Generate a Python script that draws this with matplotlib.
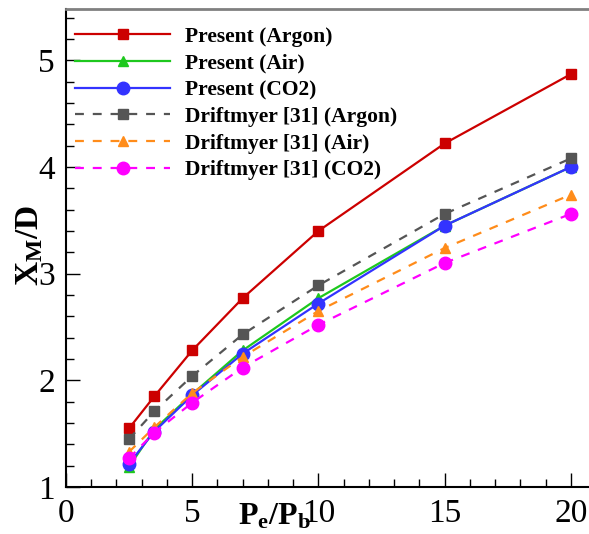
import matplotlib.pyplot as plt
from matplotlib.ticker import MultipleLocator

# Pressure ratio Pe/Pb
pressure_ratio = [2.5, 3.5, 5, 7, 10, 15, 20]

# Mach disk location X_M/D
present_argon = [1.55, 1.85, 2.28, 2.77, 3.40, 4.22, 4.87]
present_air = [1.19, 1.54, 1.87, 2.28, 2.77, 3.45, 4.00]
present_co2 = [1.22, 1.52, 1.86, 2.25, 2.72, 3.45, 4.00]
drift_argon = [1.45, 1.71, 2.04, 2.43, 2.89, 3.56, 4.08]
drift_air = [1.33, 1.56, 1.88, 2.22, 2.65, 3.24, 3.74]
drift_co2 = [1.27, 1.51, 1.79, 2.12, 2.52, 3.10, 3.56]

plt.rcParams['font.family'] = ['Liberation Serif', 'DejaVu Serif']
plt.rcParams['mathtext.fontset'] = 'custom'
plt.rcParams['mathtext.rm'] = 'Liberation Serif'
plt.rcParams['mathtext.bf'] = 'Liberation Serif:bold'

fig = plt.figure(figsize=(5.89, 5.34), dpi=100)
ax = fig.add_axes([0.112, 0.088, 0.90, 0.895])

ax.plot(pressure_ratio, present_argon, '-', color='#cc0000', lw=1.6,
        marker='s', ms=7, label='Present (Argon)')
ax.plot(pressure_ratio, present_air, '-', color='#1ec81e', lw=1.6,
        marker='^', ms=7.5, label='Present (Air)')
ax.plot(pressure_ratio, present_co2, '-', color='#3333ff', lw=1.6,
        marker='o', ms=9, label='Present (CO2)')
ax.plot(pressure_ratio, drift_argon, '--', color='#555555', lw=1.6, dashes=(4, 4),
        marker='s', ms=7, label='Driftmyer [31] (Argon)')
ax.plot(pressure_ratio, drift_air, '--', color='#ff8c1a', lw=1.6, dashes=(4, 4),
        marker='^', ms=7.5, label='Driftmyer [31] (Air)')
ax.plot(pressure_ratio, drift_co2, '--', color='#ff00ff', lw=1.6, dashes=(4, 4),
        marker='o', ms=9, label='Driftmyer [31] (CO2)')

ax.set_xlim(0, 21)
ax.set_ylim(1, 5.48)
ax.xaxis.set_major_locator(MultipleLocator(5))
ax.xaxis.set_minor_locator(MultipleLocator(1))
ax.yaxis.set_major_locator(MultipleLocator(1))
ax.yaxis.set_minor_locator(MultipleLocator(0.2))
ax.tick_params(which='both', direction='in', labelsize=24, width=1)
ax.tick_params(which='major', length=10, pad=8)
ax.tick_params(which='minor', length=6)

for side in ['left', 'bottom']:
    ax.spines[side].set_linewidth(1.5)
ax.spines['top'].set_color('#808080')
ax.spines['top'].set_linewidth(2)
ax.spines['right'].set_visible(False)

# axis titles placed by hand, overlapping the tick labels a little
fig.text(0.05, 0.54, r'$\mathbf{X_M/D}$', rotation=90, fontsize=24,
         ha='center', va='center')
fig.text(0.466, 0.004, r'$\mathbf{P_e/P_b}$', fontsize=23,
         ha='center', va='bottom')

ax.legend(loc='upper left', bbox_to_anchor=(-0.011, 0.995), frameon=False,
          prop={'weight': 'bold', 'size': 15.5}, handlelength=4.4,
          handletextpad=0.7, labelspacing=0.31, borderaxespad=0.3)

fig.savefig('out.png', dpi=100)
